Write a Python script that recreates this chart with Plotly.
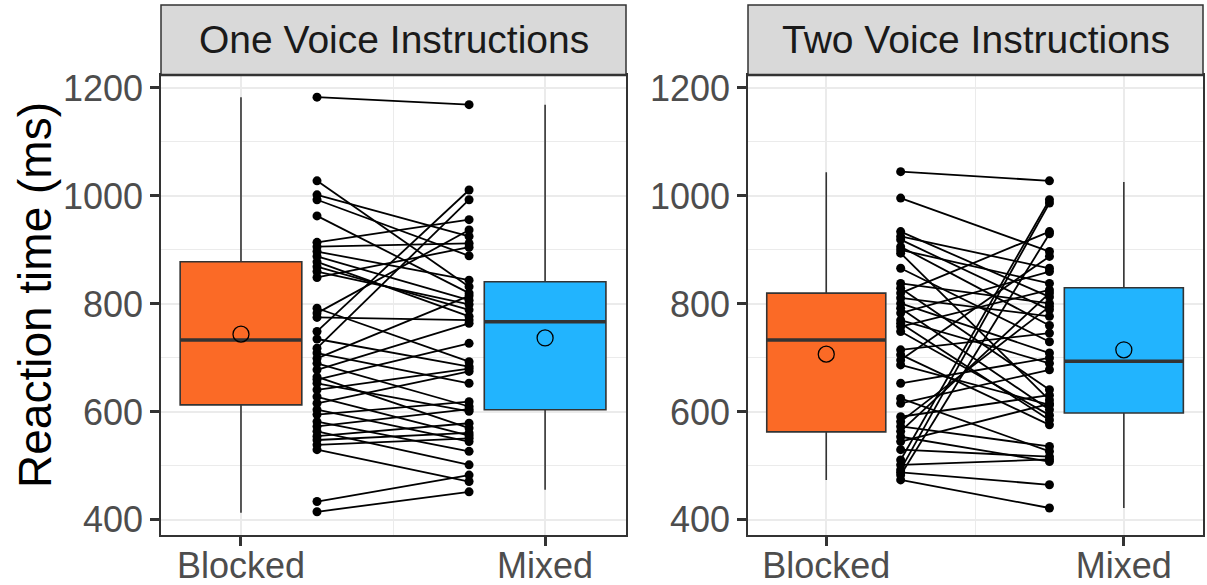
import plotly.graph_objects as go

# ---------------- data ----------------
panels = ["One Voice Instructions", "Two Voice Instructions"]
conditions = ["Blocked", "Mixed"]

# paired reaction times (ms), panel 1
blocked_one = [1183, 1028, 1002, 993, 963, 914, 906, 897, 888, 878, 869, 860, 849, 792, 783,
               775, 749, 735, 718, 709, 699, 690, 678, 665, 660, 653, 641, 628, 616, 604,
               595, 582, 573, 564, 555, 548, 539, 530, 434, 415]
mixed_one = [1169, 832, 925, 889, 820, 956, 912, 844, 807, 777, 789, 799, 905, 693, 937,
             770, 1011, 684, 993, 653, 815, 610, 764, 570, 727, 601, 680, 556, 675, 545,
             619, 527, 605, 502, 579, 561, 551, 471, 483, 452]

# paired reaction times (ms), panel 2
blocked_two = [1045, 996, 934, 925, 919, 906, 900, 894, 866, 838, 829, 820, 811, 801, 792,
               783, 770, 764, 758, 749, 715, 706, 696, 687, 653, 625, 616, 591, 582, 573,
               564, 554, 545, 530, 511, 502, 493, 488, 483, 474]
mixed_two = [1028, 897, 813, 866, 789, 760, 838, 622, 730, 801, 641, 934, 777, 709, 604,
             860, 690, 585, 826, 594, 746, 576, 888, 613, 700, 527, 678, 631, 795, 536,
             820, 508, 615, 517, 993, 512, 987, 465, 930, 422]

# box statistics: [Blocked, Mixed] per panel
box_lower = [[413, 456], [474, 422]]
box_q1 = [[613, 604], [563, 598]]
box_median = [[733, 767], [733, 694]]
box_q3 = [[878, 841], [820, 830]]
box_upper = [[1183, 1169], [1044, 1026]]
box_mean = [[744, 737], [707, 715]]

y_ticks = [400, 600, 800, 1000, 1200]

# ---------------- style ----------------
FILL = {"Blocked": "#FB6A26", "Mixed": "#22B4FE"}
DARK = "#333333"
GRID = "#EBEBEB"
FONT = "Liberation Sans, Arial, sans-serif"
POS = {"Blocked": 1, "Mixed": 2}
PAIR_X = (1.25, 1.75)
BOX_W = 0.4

fig = go.Figure()

pairs = [(blocked_one, mixed_one), (blocked_two, mixed_two)]
for p in range(2):
    xa = "x" if p == 0 else "x2"
    ya = "y" if p == 0 else "y2"
    for c, cond in enumerate(conditions):
        fig.add_trace(go.Box(
            x=[POS[cond]], q1=[box_q1[p][c]], median=[box_median[p][c]], q3=[box_q3[p][c]],
            lowerfence=[box_lower[p][c]], upperfence=[box_upper[p][c]],
            width=BOX_W, whiskerwidth=0, fillcolor=FILL[cond],
            line=dict(color=DARK, width=1.6), boxpoints=False,
            xaxis=xa, yaxis=ya, showlegend=False, hoverinfo="skip"))
        # thicker median line (ggplot style)
        fig.add_trace(go.Scatter(
            x=[POS[cond] - BOX_W / 2, POS[cond] + BOX_W / 2],
            y=[box_median[p][c]] * 2, mode="lines",
            line=dict(color=DARK, width=3.5), xaxis=xa, yaxis=ya,
            showlegend=False, hoverinfo="skip"))
        # mean marker
        fig.add_trace(go.Scatter(
            x=[POS[cond]], y=[box_mean[p][c]], mode="markers",
            marker=dict(symbol="circle-open", size=16, color="black", line=dict(width=1.3)),
            xaxis=xa, yaxis=ya, showlegend=False, hoverinfo="skip"))
    b, m = pairs[p]
    lx, ly = [], []
    for bv, mv in zip(b, m):
        lx += [PAIR_X[0], PAIR_X[1], None]
        ly += [bv, mv, None]
    fig.add_trace(go.Scatter(x=lx, y=ly, mode="lines", line=dict(color="black", width=1.8),
                             xaxis=xa, yaxis=ya, showlegend=False, hoverinfo="skip"))
    fig.add_trace(go.Scatter(
        x=[PAIR_X[0]] * len(b) + [PAIR_X[1]] * len(m), y=b + m, mode="markers",
        marker=dict(color="black", size=9), xaxis=xa, yaxis=ya,
        showlegend=False, hoverinfo="skip"))

W, H = 1207, 585
ML, MR, MT, MB = 161, 4, 75, 50
pw = W - ML - MR
ph = H - MT - MB
dom1 = [0, (626 - ML) / pw]
dom2 = [(748 - ML) / pw, 1]

TICKFONT = dict(family=FONT, size=36, color="#4D4D4D")
xcommon = dict(range=[0.737, 2.266], tickvals=[1, 2], ticktext=conditions,
               showgrid=True, gridcolor=GRID, gridwidth=2,
               minor=dict(tickvals=[1.5], showgrid=True, gridcolor=GRID, gridwidth=1, ticklen=0),
               showline=True, mirror=True, linecolor=DARK, linewidth=1.5,
               ticks="outside", ticklen=9, tickwidth=2.5, tickcolor=DARK,
               ticklabelstandoff=-11,
               tickfont=TICKFONT, zeroline=False, fixedrange=True, automargin=False)
ycommon = dict(range=[372, 1224], tickvals=y_ticks,
               showgrid=True, gridcolor=GRID, gridwidth=2,
               minor=dict(dtick=100, showgrid=True, gridcolor=GRID, gridwidth=1, ticklen=0),
               showline=True, mirror=True, linecolor=DARK, linewidth=1.5,
               ticks="outside", ticklen=9, tickwidth=2.5, tickcolor=DARK,
               tickfont=TICKFONT, zeroline=False, fixedrange=True, automargin=False)

fig.update_layout(
    width=W, height=H, margin=dict(l=ML, r=MR, t=MT, b=MB, autoexpand=False),
    paper_bgcolor="white", plot_bgcolor="white",
    xaxis=dict(domain=dom1, anchor="y", **xcommon),
    yaxis=dict(domain=[0, 1], anchor="x", **ycommon),
    xaxis2=dict(domain=dom2, anchor="y2", **xcommon),
    yaxis2=dict(domain=[0, 1], anchor="x2", **ycommon),
)

strip_top = 1 + 70 / ph
shapes = []
annotations = []
for dom, name in zip([dom1, dom2], panels):
    shapes.append(dict(type="rect", xref="paper", yref="paper", x0=dom[0], x1=dom[1],
                       y0=1, y1=strip_top, fillcolor="#D9D9D9",
                       line=dict(color=DARK, width=1.5), layer="above"))
    shapes.append(dict(type="line", xref="paper", yref="paper", x0=dom[0], x1=dom[1],
                       y0=1, y1=1, line=dict(color=DARK, width=2.5), layer="above"))
    annotations.append(dict(text=name, xref="paper", yref="paper",
                            x=(dom[0] + dom[1]) / 2, y=(1 + strip_top) / 2,
                            showarrow=False, xanchor="center", yanchor="middle",
                            font=dict(family=FONT, size=39, color="#1A1A1A")))
annotations.append(dict(text="Reaction time (ms)", xref="paper", yref="paper",
                        x=(35 - ML) / pw, y=(H - MB - 295) / ph, textangle=-90,
                        showarrow=False, xanchor="center", yanchor="middle",
                        font=dict(family=FONT, size=46, color="black")))
fig.update_layout(shapes=shapes, annotations=annotations)

fig.write_html("out.html", config={"displayModeBar": False},
               post_script="document.body.style.margin='0';document.body.style.overflow='hidden';")
